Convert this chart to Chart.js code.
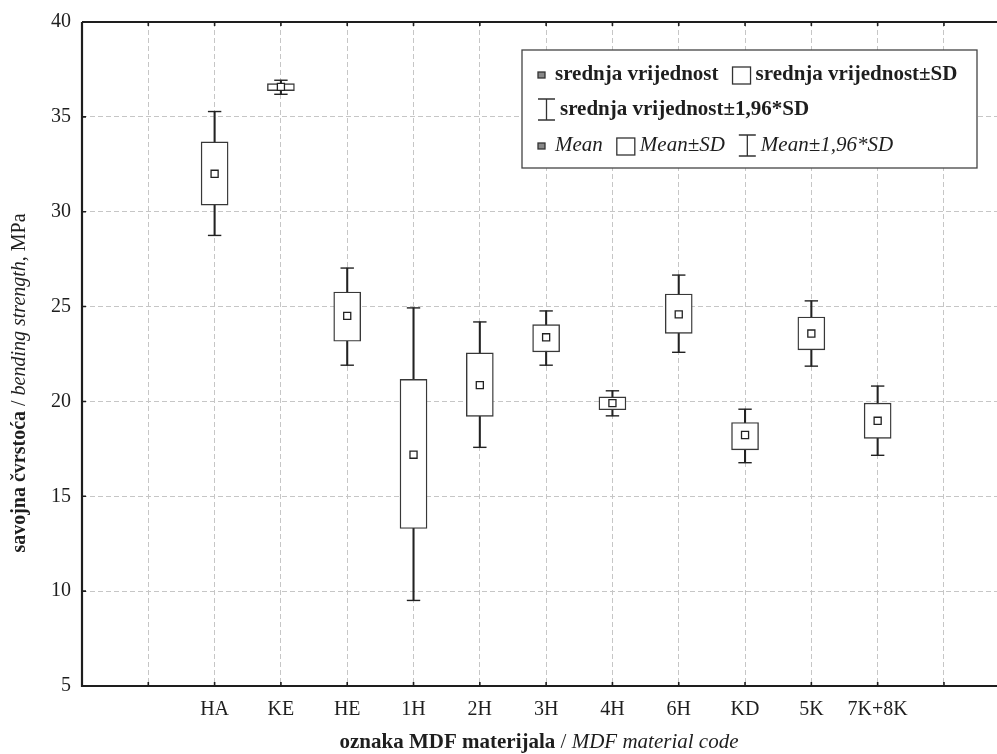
<!DOCTYPE html>
<html><head><meta charset="utf-8">
<script src="https://cdn.jsdelivr.net/npm/chart.js@4.4.1/dist/chart.umd.min.js"></script>
<style>html,body{margin:0;padding:0;background:#fff;} #wrap{width:997px;height:754px;position:relative;} canvas{display:block;}</style>
</head><body><div id="wrap"><canvas id="c" width="997" height="754"></canvas></div>
<script>
// ---- data ----
const tickLabels = ['', '', 'HA', 'KE', 'HE', '1H', '2H', '3H', '4H', '6H', 'KD', '5K', '7K+8K', ''];
const categories = ['HA', 'KE', 'HE', '1H', '2H', '3H', '4H', '6H', 'KD', '5K', '7K+8K'];
const means  = [32.00, 36.58, 24.51, 17.19, 20.86, 23.38, 19.91, 24.59, 18.23, 23.58, 18.98];
const sdLow  = [30.35, 36.38, 23.17, 13.30, 19.21, 22.61, 19.56, 23.59, 17.45, 22.72, 18.05];
const sdHigh = [33.68, 36.75, 25.77, 21.16, 22.56, 24.05, 20.24, 25.66, 18.89, 24.45, 19.91];
const ciLow  = [28.75, 36.19, 21.91,  9.51, 17.58, 21.91, 19.24, 22.59, 16.77, 21.86, 17.16];
const ciHigh = [35.28, 36.93, 27.03, 24.93, 24.19, 24.77, 20.56, 26.66, 19.59, 25.30, 20.81];
const yTicks = [5, 10, 15, 20, 25, 30, 35, 40];

const yTitle = [['savojna čvrstoća', 'bold'], [' / ', ''], ['bending strength', 'italic'], [', MPa', '']];
const xTitle = [['oznaka MDF materijala', 'bold'], [' / ', ''], ['MDF material code', 'italic']];
const legendRows = [
  [['mean'], ['srednja vrijednost', 'bold'], ['box'], ['srednja vrijednost±SD', 'bold']],
  [['whisker'], ['srednja vrijednost±1,96*SD', 'bold']],
  [['mean'], ['Mean', 'italic'], ['box'], ['Mean±SD', 'italic'], ['whisker'], ['Mean±1,96*SD', 'italic']]
];

// ---- styling ----
const FONT = "'Liberation Serif','Times New Roman',Times,serif";
const ink = '#1e1e1e';
const gridCol = '#c6c6c6';
const xPos = categories.map(c => tickLabels.indexOf(c));

function font(style, size) { return (style ? style + ' ' : '') + size + 'px ' + FONT; }
function richWidth(ctx, parts, size) {
  let w = 0;
  parts.forEach(p => { ctx.font = font(p[1], size); w += ctx.measureText(p[0]).width; });
  return w;
}
function richDraw(ctx, parts, size, x, y) {
  parts.forEach(p => { ctx.font = font(p[1], size); ctx.fillText(p[0], x, y); x += ctx.measureText(p[0]).width; });
}

const decor = {
  id: 'decor',
  afterDraw(chart) {
    const {ctx, chartArea: a, scales: {x, y}} = chart;
    ctx.save();
    // axis frame (left, bottom, top)
    ctx.strokeStyle = ink; ctx.lineWidth = 2.2; ctx.setLineDash([]);
    ctx.beginPath();
    ctx.moveTo(a.left, a.top); ctx.lineTo(a.left, a.bottom); ctx.lineTo(a.right, a.bottom);
    ctx.moveTo(a.left, a.top); ctx.lineTo(a.right, a.top);
    ctx.stroke();
    // inward tick marks
    ctx.lineWidth = 1.6;
    ctx.beginPath();
    x.ticks.forEach(t => {
      if (t.value === 0) return;
      const px = x.getPixelForValue(t.value);
      ctx.moveTo(px, a.bottom + 1); ctx.lineTo(px, a.bottom - 4);
      ctx.moveTo(px, a.top - 1); ctx.lineTo(px, a.top + 4);
    });
    y.ticks.forEach(t => {
      const py = y.getPixelForValue(t.value);
      ctx.moveTo(a.left, py); ctx.lineTo(a.left + 4, py);
    });
    ctx.stroke();

    // axis titles
    ctx.fillStyle = ink; ctx.textBaseline = 'alphabetic'; ctx.textAlign = 'left';
    const xs = 21;
    const xw = richWidth(ctx, xTitle, xs);
    richDraw(ctx, xTitle, xs, 539 - xw / 2, 748);
    ctx.save();
    ctx.translate(25, 383);
    ctx.rotate(-Math.PI / 2);
    const ys = 20;
    const yw = richWidth(ctx, yTitle, ys);
    richDraw(ctx, yTitle, ys, -yw / 2, 0);
    ctx.restore();

    // legend
    const L = {x: 522, y: 50, w: 455, h: 118};
    ctx.fillStyle = '#fff';
    ctx.fillRect(L.x, L.y, L.w, L.h);
    ctx.strokeStyle = '#444'; ctx.lineWidth = 1.3;
    ctx.strokeRect(L.x, L.y, L.w, L.h);
    const baselines = [80, 115, 151];
    const ls = 21;
    legendRows.forEach((row, r) => {
      let cx = 538;
      const by = baselines[r];
      row.forEach(item => {
        if (item.length === 1) {
          const kind = item[0];
          ctx.strokeStyle = '#333'; ctx.lineWidth = 1.3; ctx.fillStyle = '#fff';
          if (kind === 'mean') {
            ctx.fillStyle = '#888';
            ctx.fillRect(cx, by - 8, 7, 6);
            ctx.strokeRect(cx, by - 8, 7, 6);
            cx += 17;
          } else if (kind === 'box') {
            ctx.fillRect(cx, by - 13, 18, 17);
            ctx.strokeRect(cx, by - 13, 18, 17);
            cx += 23;
          } else {
            ctx.beginPath();
            ctx.moveTo(cx + 8.5, by - 16); ctx.lineTo(cx + 8.5, by + 5);
            ctx.moveTo(cx, by - 16); ctx.lineTo(cx + 17, by - 16);
            ctx.moveTo(cx, by + 5); ctx.lineTo(cx + 17, by + 5);
            ctx.stroke();
            cx += 22;
          }
        } else {
          ctx.fillStyle = ink;
          ctx.font = font(item[1], ls);
          ctx.fillText(item[0], cx, by);
          cx += ctx.measureText(item[0]).width + 14;
        }
      });
    });
    ctx.restore();
  }
};

const whiskerData = categories.map((c, i) => ({x: xPos[i], y: [ciLow[i], ciHigh[i]]}));
const boxData = categories.map((c, i) => ({x: xPos[i], y: [sdLow[i], sdHigh[i]]}));
const capData = categories.flatMap((c, i) => [{x: xPos[i], y: ciLow[i]}, {x: xPos[i], y: ciHigh[i]}]);
const meanData = categories.map((c, i) => ({x: xPos[i], y: means[i]}));

new Chart(document.getElementById('c'), {
  type: 'bar',
  data: {
    datasets: [
      {type: 'bar', data: whiskerData, backgroundColor: '#222', borderWidth: 0, barThickness: 1.4, grouped: false, order: 4},
      {type: 'bar', data: boxData, backgroundColor: '#fff', borderColor: '#383838', borderWidth: 1.4, borderSkipped: false, barThickness: 27, grouped: false, order: 3},
      {type: 'scatter', data: capData, pointStyle: 'line', pointRadius: 6.7, pointBorderColor: '#222', pointBorderWidth: 1.4, order: 2},
      {type: 'scatter', data: meanData, pointStyle: 'rect', pointRadius: 5, pointBackgroundColor: '#fff', pointBorderColor: '#222', pointBorderWidth: 1.3, order: 1}
    ]
  },
  options: {
    responsive: false,
    devicePixelRatio: 1,
    animation: false,
    events: [],
    layout: {autoPadding: false, padding: {top: 22, left: 0, right: 0, bottom: 0}},
    plugins: {legend: {display: false}, tooltip: {enabled: false}, title: {display: false}},
    scales: {
      x: {
        type: 'linear', min: 0, max: 13.8, offset: false,
        afterBuildTicks: s => { s.ticks = tickLabels.map((_, i) => ({value: i})); },
        afterFit: s => { s.height = 68; s.paddingLeft = 0; s.paddingRight = 0; },
        ticks: {autoSkip: false, maxRotation: 0, padding: 12, color: ink, font: {family: FONT, size: 20},
                callback: v => tickLabels[v] ?? ''},
        grid: {offset: false, drawTicks: false, lineWidth: 1,
               color: c => (c.tick && c.tick.value === 0) ? 'rgba(0,0,0,0)' : gridCol},
        border: {display: false, dash: [5, 3]}
      },
      y: {
        type: 'linear', min: 5, max: 40,
        afterBuildTicks: s => { s.ticks = yTicks.map(v => ({value: v})); },
        afterFit: s => { s.width = 82; s.paddingTop = 0; s.paddingBottom = 0; },
        ticks: {padding: 11, color: ink, font: {family: FONT, size: 20}},
        grid: {drawTicks: false, lineWidth: 1,
               color: c => (c.tick && (c.tick.value === 5 || c.tick.value === 40)) ? 'rgba(0,0,0,0)' : gridCol},
        border: {display: false, dash: [5, 3]}
      }
    }
  },
  plugins: [decor]
});
</script>
</body></html>
